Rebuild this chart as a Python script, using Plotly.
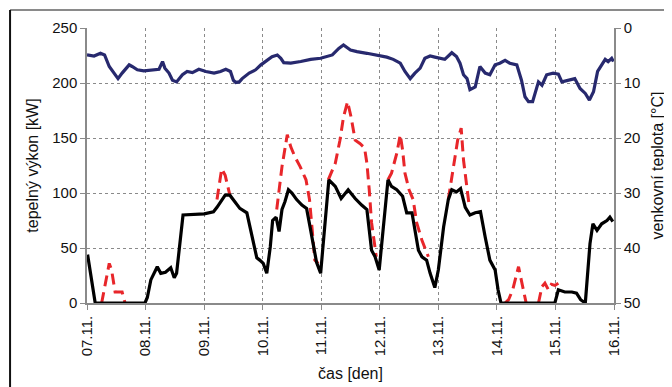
import plotly.graph_objects as go

# x in days since 07.11.
day_labels = ["07.11.", "08.11.", "09.11.", "10.11.", "11.11.", "12.11.", "13.11.", "14.11.", "15.11.", "16.11."]

black_x = [0.01, 0.14, 0.99, 1.03, 1.09, 1.14, 1.20, 1.26, 1.34, 1.43, 1.49, 1.53, 1.60, 1.64, 2.00, 2.16,
           2.22, 2.30, 2.36, 2.44, 2.53, 2.61, 2.73, 2.78, 2.84, 2.90, 2.95, 3.01, 3.07, 3.13, 3.17, 3.23,
           3.28, 3.33, 3.38, 3.44, 3.50, 3.58, 3.67, 3.75, 3.81, 3.87, 3.92, 3.99, 4.06, 4.13, 4.24, 4.34,
           4.46, 4.58, 4.69, 4.78, 4.86, 4.92, 4.99, 5.06, 5.14, 5.20, 5.29, 5.39, 5.46, 5.55, 5.60, 5.66,
           5.72, 5.80, 5.86, 5.94, 6.00, 6.09, 6.17, 6.23, 6.31, 6.38, 6.46, 6.54, 6.63, 6.72, 6.80, 6.88,
           6.97, 7.02, 7.07, 7.99, 8.05, 8.16, 8.28, 8.36, 8.43, 8.51, 8.59, 8.64, 8.71, 8.79, 8.88, 8.93, 8.98]
black_y = [44, 0, 0, 5, 21, 27, 33, 27, 28, 32, 23, 27, 57, 80, 81, 83,
           87, 94, 98, 98, 92, 86, 82, 69, 54, 41, 39, 36, 27, 51, 75, 78,
           65, 85, 92, 103, 100, 94, 89, 86, 69, 51, 37, 27, 73, 112, 106, 95,
           103, 95, 89, 85, 48, 42, 30, 66, 112, 106, 103, 97, 82, 82, 66, 48,
           42, 39, 27, 14, 30, 69, 94, 103, 101, 104, 87, 80, 82, 83, 60, 39,
           30, 12, 0, 0, 12, 10, 10, 9, 3, 0, 54, 72, 66, 72, 75, 78, 74]

# red dashed series: only the parts that are visible above the black line (None = hidden under black)
red_x = [0.25, 0.38, 0.42, 0.45, 0.48, 0.60, 0.65, None,
         2.22, 2.30, 2.36, 2.41, 2.44, None,
         3.24, 3.33, 3.42, 3.48, 3.55, 3.64, 3.74, 3.80, 3.85, 3.89, 3.95, None,
         4.12, 4.24, 4.32, 4.38, 4.45, 4.51, 4.58, 4.66, 4.74, 4.78, 4.82, 4.86, 4.91, 4.94, None,
         5.14, 5.20, 5.29, 5.35, 5.39, 5.43, 5.50, 5.57, 5.63, 5.72, 5.83, None,
         6.17, 6.26, 6.33, 6.39, 6.43, 6.50, 6.53, None,
         7.14, 7.20, 7.27, 7.37, 7.44, 7.48, 7.50, None,
         7.71, 7.77, 7.82, 7.88, 7.93, 7.99, 8.05]
red_y = [0, 36, 30, 20, 10, 10, 0, None,
         94, 122, 116, 103, 98, None,
         85, 124, 153, 142, 133, 124, 112, 94, 64, 39, 36, None,
         112, 127, 148, 169, 183, 169, 148, 145, 141, 127, 103, 73, 54, 42, None,
         112, 118, 136, 153, 139, 118, 103, 94, 73, 57, 42, None,
         94, 124, 148, 159, 130, 100, 87, None,
         0, 3, 12, 33, 15, 3, 0, None,
         0, 15, 18, 12, 17, 16, 18]

temp_x = [0.00, 0.12, 0.23, 0.30, 0.38, 0.46, 0.53, 0.60, 0.72, 0.77, 0.86, 0.97, 1.09, 1.23, 1.29, 1.33,
          1.40, 1.46, 1.53, 1.63, 1.71, 1.80, 1.91, 2.03, 2.17, 2.28, 2.37, 2.45, 2.50, 2.54, 2.60, 2.65,
          2.77, 2.88, 2.97, 3.05, 3.16, 3.25, 3.31, 3.36, 3.48, 3.65, 3.82, 3.99, 4.19, 4.30, 4.38, 4.50,
          4.61, 4.78, 4.95, 5.12, 5.23, 5.35, 5.43, 5.52, 5.60, 5.69, 5.77, 5.86, 5.94, 6.03, 6.11, 6.23,
          6.31, 6.37, 6.43, 6.49, 6.54, 6.63, 6.71, 6.80, 6.88, 6.97, 7.05, 7.14, 7.22, 7.34, 7.42, 7.48,
          7.54, 7.61, 7.65, 7.71, 7.77, 7.85, 7.96, 8.05, 8.11, 8.22, 8.33, 8.42, 8.51, 8.58, 8.65, 8.72,
          8.79, 8.85, 8.90, 8.96, 8.99]
temp_y = [4.9, 5.1, 4.6, 4.9, 7.0, 8.2, 9.2, 8.2, 6.7, 7.0, 7.6, 7.8, 7.6, 7.5, 6.1, 7.3,
          8.2, 9.5, 9.8, 8.5, 7.9, 8.1, 7.5, 7.9, 8.2, 7.9, 7.5, 7.9, 9.5, 9.9, 9.8, 9.2,
          8.2, 7.6, 6.7, 6.1, 5.2, 4.9, 5.5, 6.3, 6.4, 6.1, 5.7, 5.5, 4.9, 3.7, 3.1, 4.0,
          4.3, 4.6, 4.9, 5.3, 5.7, 6.4, 7.9, 9.2, 8.2, 7.3, 5.5, 5.1, 5.3, 5.5, 5.7, 4.5,
          5.2, 6.4, 8.5, 9.2, 11.2, 10.7, 7.0, 8.2, 8.5, 6.7, 6.4, 5.9, 6.4, 6.7, 9.5, 12.5,
          13.4, 13.4, 11.9, 9.8, 10.4, 8.5, 8.2, 8.4, 9.8, 9.5, 9.2, 11.0, 11.9, 13.1, 11.6, 7.9,
          6.7, 5.7, 6.1, 5.5, 6.1]

FONT = "Liberation Sans, Arial, sans-serif"

fig = go.Figure()
fig.add_trace(go.Scatter(x=temp_x, y=temp_y, mode="lines", yaxis="y2",
                         line=dict(color="#27296e", width=3.2), showlegend=False))
fig.add_trace(go.Scatter(x=red_x, y=red_y, mode="lines", connectgaps=False,
                         line=dict(color="#e8262a", width=3, dash="11px,6px"), showlegend=False))
fig.add_trace(go.Scatter(x=black_x, y=black_y, mode="lines",
                         line=dict(color="#000000", width=3.2), showlegend=False))

grid = dict(showgrid=True, gridcolor="#8a8a8a", griddash="3px,3px", gridwidth=1)

# page has an 8px body margin, so figure is 8px smaller than the window
fig.update_layout(
    width=664, height=379,
    margin=dict(l=79, r=58, t=20, b=84, autoexpand=False),
    paper_bgcolor="white", plot_bgcolor="white",
    font=dict(family=FONT, size=15, color="#111111"),
    xaxis=dict(range=[0, 9], tickvals=list(range(10)), ticktext=day_labels, tickangle=-90,
               showline=True, linecolor="#8a8a8a", linewidth=1.5, ticks="outside", ticklen=5,
               tickcolor="#8a8a8a", zeroline=False, automargin=False,
               title=dict(text="čas [den]", font=dict(size=16), standoff=12), **grid),
    yaxis=dict(range=[0, 250], tickvals=[0, 50, 100, 150, 200, 250],
               showline=True, linecolor="#8a8a8a", linewidth=1.5, ticks="outside", ticklen=5,
               tickcolor="#8a8a8a", zeroline=False, automargin=False,
               title=dict(text="tepelný výkon [kW]", font=dict(size=16), standoff=10), **grid),
    yaxis2=dict(range=[50, 0], tickvals=[0, 10, 20, 30, 40, 50], overlaying="y", side="right",
                showline=True, linecolor="#8a8a8a", linewidth=1.5, ticks="outside", ticklen=5,
                tickcolor="#8a8a8a", showgrid=False, zeroline=False, automargin=False,
                title=dict(text="venkovní teplota [°C]", font=dict(size=16), standoff=12)),
)

# outer frame (top gray line and left black line)
fig.add_shape(type="line", xref="paper", yref="paper", x0=-0.146, x1=1.12, y0=1.0655, y1=1.0655,
              line=dict(color="#8a8a8a", width=2))
fig.add_shape(type="line", xref="paper", yref="paper", x0=-0.146, x1=-0.146, y0=1.0655, y1=-0.32,
              line=dict(color="#111111", width=2))

fig.write_html("out.html")
